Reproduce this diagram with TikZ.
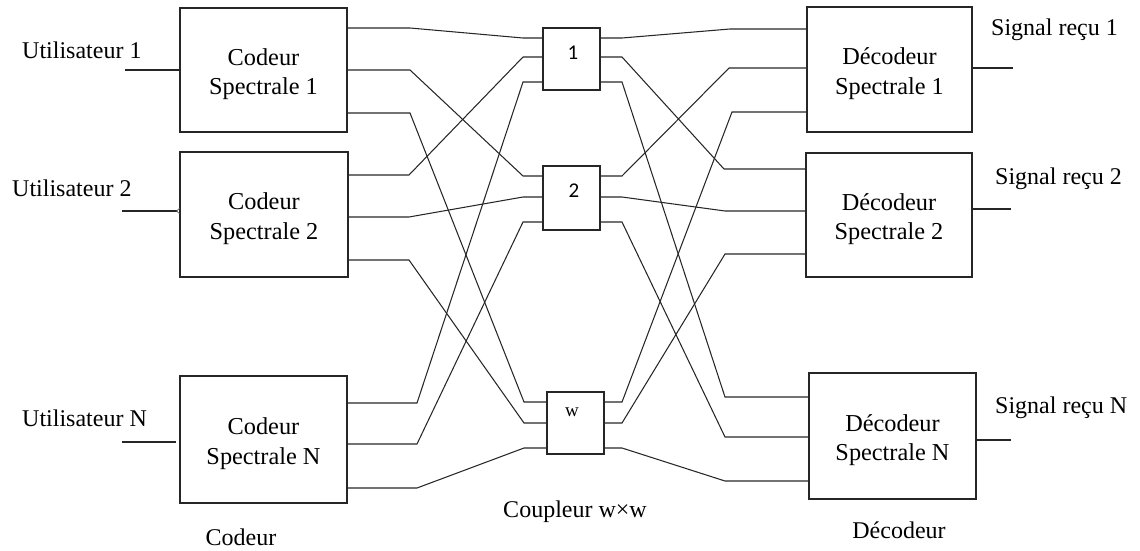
\documentclass[tikz,border=0pt]{standalone}
\usepackage{fontspec}
\setmainfont{Liberation Serif}
\newfontfamily\digitfont{Carlito}
\usetikzlibrary{calc}
\newcommand\lowtxt{\rule{0pt}{25pt}}
\begin{document}
\begin{tikzpicture}[x=1pt,y=-1pt,
  blk/.style={draw=black!85, line width=1.3pt, inner sep=0pt, outer sep=0pt, align=center, font=\fontsize{24.3}{29.5}\selectfont},
  cpl/.style={draw=black!85, line width=1.3pt, inner sep=0pt, outer sep=0pt},
  wire/.style={draw=black!85, line width=1.05pt},
  lbl/.style={inner sep=0pt, font=\fontsize{24}{29}\selectfont},
  num/.style={inner sep=0pt, font=\digitfont\fontsize{21}{22}\selectfont}]
\useasboundingbox (0,0) rectangle (1140,551);

% encoders
\node[blk, minimum width=167pt, minimum height=124pt] (enc1) at (263.5,70) {\lowtxt Codeur\\Spectrale 1};
\node[blk, minimum width=168pt, minimum height=125pt] (enc2) at (264,214.5) {\lowtxt Codeur\\Spectrale 2};
\node[blk, minimum width=167pt, minimum height=127pt] (encN) at (263.5,439.5) {\lowtxt Codeur\\Spectrale N};
% decoders
\node[blk, minimum width=165pt, minimum height=125pt] (dec1) at (889.5,69.5) {\lowtxt Décodeur\\Spectrale 1};
\node[blk, minimum width=166pt, minimum height=124pt] (dec2) at (889,215) {\lowtxt Décodeur\\Spectrale 2};
\node[blk, minimum width=167pt, minimum height=126pt] (decN) at (892.5,436) {\lowtxt Décodeur\\Spectrale N};
% couplers
\node[cpl, minimum width=57pt, minimum height=62pt] (c1) at (571.5,59) {};
\node[cpl, minimum width=57pt, minimum height=64pt] (c2) at (571.5,198) {};
\node[cpl, minimum width=57pt, minimum height=62pt] (cw) at (575.5,423) {};
\node[num] (c1l) at (573,53) {1};
\node[num] (c2l) at (574,191) {2};
\node[inner sep=0pt, font=\fontsize{19}{22}\selectfont] (cwl) at (572,412) {w};

% ports: encoder outputs
\coordinate (e1o1) at (enc1.east |- 0,28);
\coordinate (e1o2) at (enc1.east |- 0,70);
\coordinate (e1o3) at (enc1.east |- 0,113);
\coordinate (e2o1) at (enc2.east |- 0,175);
\coordinate (e2o2) at (enc2.east |- 0,217);
\coordinate (e2o3) at (enc2.east |- 0,260);
\coordinate (eNo1) at (encN.east |- 0,403);
\coordinate (eNo2) at (encN.east |- 0,444);
\coordinate (eNo3) at (encN.east |- 0,488);
% coupler inputs / outputs
\coordinate (c1i1) at (c1.west |- 0,38);
\coordinate (c1i2) at (c1.west |- 0,57);
\coordinate (c1i3) at (c1.west |- 0,82);
\coordinate (c2i1) at (c2.west |- 0,176);
\coordinate (c2i2) at (c2.west |- 0,197);
\coordinate (c2i3) at (c2.west |- 0,222);
\coordinate (cwi1) at (cw.west |- 0,402);
\coordinate (cwi2) at (cw.west |- 0,423);
\coordinate (cwi3) at (cw.west |- 0,448);
\coordinate (c1o1) at (c1.east |- 0,38);
\coordinate (c1o2) at (c1.east |- 0,57);
\coordinate (c1o3) at (c1.east |- 0,82);
\coordinate (c2o1) at (c2.east |- 0,176);
\coordinate (c2o2) at (c2.east |- 0,197);
\coordinate (c2o3) at (c2.east |- 0,222);
\coordinate (cwo1) at (cw.east |- 0,402);
\coordinate (cwo2) at (cw.east |- 0,423);
\coordinate (cwo3) at (cw.east |- 0,448);
% decoder inputs
\coordinate (d1i1) at (dec1.west |- 0,29);
\coordinate (d1i2) at (dec1.west |- 0,68);
\coordinate (d1i3) at (dec1.west |- 0,112);
\coordinate (d2i1) at (dec2.west |- 0,169);
\coordinate (d2i2) at (dec2.west |- 0,211);
\coordinate (d2i3) at (dec2.west |- 0,254);
\coordinate (dNi1) at (decN.west |- 0,397);
\coordinate (dNi2) at (decN.west |- 0,437);
\coordinate (dNi3) at (decN.west |- 0,481);

% encoder -> coupler wires
\foreach \a/\b/\la/\lb in {e1o1/c1i1/63/-20, e1o2/c2i1/63/-20, e1o3/cwi1/63/-23,
  e2o1/c1i2/61/-20, e2o2/c2i2/61/-20, e2o3/cwi2/61/-23,
  eNo1/c1i3/70/-20, eNo2/c2i3/70/-20, eNo3/cwi3/70/-23}
  \draw[wire] (\a) -- ++(\la,0) -- ($(\b)+(\lb,0)$) -- (\b);
% coupler -> decoder wires
\foreach \a/\b/\la/\lb in {c1o1/d1i1/22/-77, c1o2/d2i1/22/-82, c1o3/dNi1/22/-84,
  c2o1/d1i2/22/-78, c2o2/d2i2/22/-81, c2o3/dNi2/22/-84,
  cwo1/d1i3/18/-75, cwo2/d2i3/18/-81, cwo3/dNi3/18/-84}
  \draw[wire] (\a) -- ++(\la,0) -- ($(\b)+(\lb,0)$) -- (\b);

% user inputs
\coordinate (u1) at (125,70);
\coordinate (u2) at (122,211);
\coordinate (uN) at (122,442);
\draw[wire] (u1) -- (enc1.west |- u1);
\draw[wire] (u2) -- ($(enc2.west |- u2)+(-3,0)$);
\draw[line width=0.6pt, black!70] ($(enc2.west |- u2)+(0,-3)$) -- ($(enc2.west |- u2)+(-3.5,0)$) -- ($(enc2.west |- u2)+(0,3)$);
\draw[wire] (uN) -- ($(encN.west |- uN)+(-4,0)$);

% outputs
\coordinate (s1) at (1013,68);
\coordinate (s2) at (1011,209);
\coordinate (sN) at (1011,440);
\draw[wire] (dec1.east |- s1) -- (s1);
\draw[wire] (dec2.east |- s2) -- (s2);
\draw[wire] (decN.east |- sN) -- (sN);

% labels
\node[lbl, anchor=base west] (tu1) at (22,58.3) {Utilisateur 1};
\node[lbl, anchor=base west] (tu2) at (12,196.7) {Utilisateur 2};
\node[lbl, anchor=base west] (tuN) at (22,426.7) {Utilisateur N};
\node[lbl, anchor=base west] (ts1) at (991,36) {Signal reçu 1};
\node[lbl, anchor=base west] (ts2) at (995,184) {Signal reçu 2};
\node[lbl, anchor=base west] (tsN) at (995,413) {Signal reçu N};
\node[lbl, anchor=base] (tcod) at (241,545) {Codeur};
\node[lbl, anchor=base] (tcpl) at (575,517) {Coupleur w×w};
\node[lbl, anchor=base] (tdec) at (899,538) {Décodeur};
\end{tikzpicture}
\end{document}
